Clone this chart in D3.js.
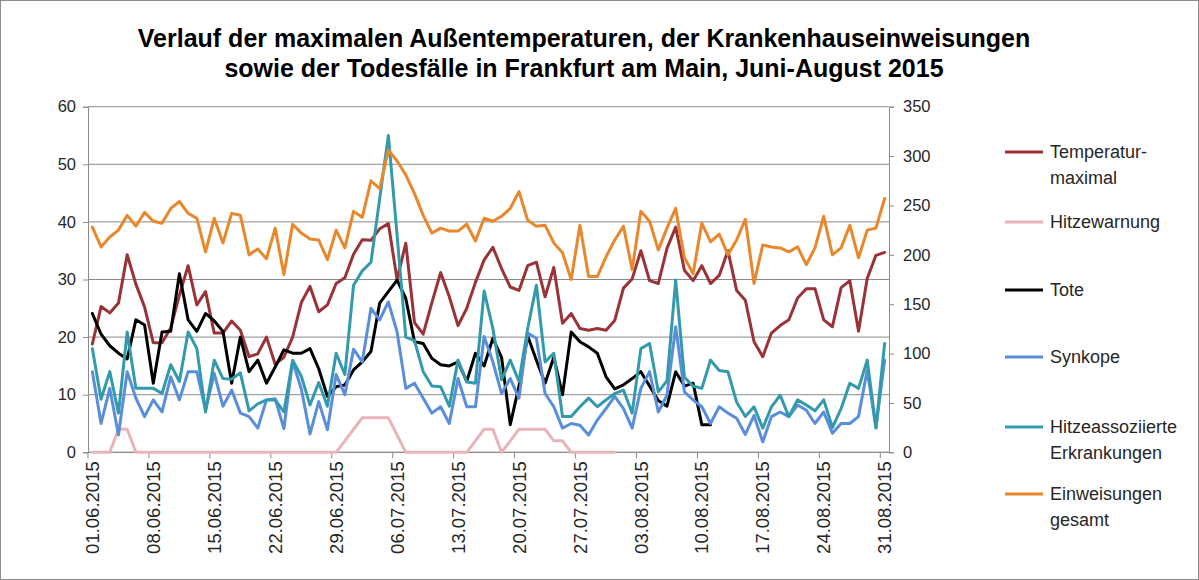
<!DOCTYPE html>
<html>
<head>
<meta charset="utf-8">
<script src="https://cdn.jsdelivr.net/npm/d3@7"></script>
<style>
  body { margin: 0; background: #fff; }
  svg { display: block; }
  text { font-family: "Liberation Sans", Arial, sans-serif; }
</style>
</head>
<body>
<svg id="chart" width="1199" height="580"></svg>
<script>
// Kategorien: alle Tage Juni–August 2015
const days = d3.timeDay.range(new Date(2015, 5, 1), new Date(2015, 8, 1));
const fmt = d3.timeFormat("%d.%m.%Y");
const dayLabels = days.map(fmt);

// Maximale Außentemperatur (°C), linke Achse
const temperatur = [
  18.8, 25.3, 24.2, 25.9, 34.3, 29.2, 25.2, 19.0, 19.0, 21.6,
  27.3, 32.4, 25.6, 27.9, 20.7, 20.7, 22.8, 21.2, 16.6, 17.1,
  20.0, 15.3, 16.5, 20.0, 26.0, 28.8, 24.4, 25.6, 29.3, 30.3,
  34.4, 36.9, 36.8, 38.8, 39.7, 30.0, 36.3, 22.5, 20.5, 26.0,
  31.2, 27.0, 22.0, 25.0, 29.5, 33.4, 35.6, 31.9, 28.7, 28.1,
  32.4, 33.0, 27.0, 32.1, 22.4, 24.1, 21.5, 21.2, 21.5, 21.2,
  22.9, 28.5, 30.1, 35.0, 29.8, 29.3, 35.4, 39.1, 31.6, 29.8,
  32.4, 29.3, 30.7, 35.0, 28.1, 26.4, 19.2, 16.6, 20.7, 22.0,
  23.0, 26.8, 28.4, 28.4, 23.0, 21.8, 28.6, 29.8, 21.0, 30.2,
  34.2, 34.7
];

// Hitzewarnung, linke Achse (endet Ende Juli)
const hitzewarnung = [
  0, 0, 0, 4, 4, 0, 0, 0, 0, 0,
  0, 0, 0, 0, 0, 0, 0, 0, 0, 0,
  0, 0, 0, 0, 0, 0, 0, 0, 0, 2,
  4, 6, 6, 6, 6, 3, 0, 0, 0, 0,
  0, 0, 0, 0, 2, 4, 4, 0, 2, 4,
  4, 4, 4, 2, 2, 0, 0, 0, 0, 0,
  0
];

// Todesfälle, linke Achse (Daten bis 11.08.)
const tote = [
  24.1, 20.5, 18.5, 17.2, 16.2, 23.0, 22.1, 12.0, 20.9, 21.0,
  31.0, 23.0, 21.0, 24.1, 22.8, 21.0, 12.0, 20.0, 14.0, 16.0,
  12.0, 14.8, 17.8, 17.2, 17.2, 18.0, 14.5, 9.7, 11.4, 11.7,
  14.3, 15.7, 17.5, 25.9, 27.9, 29.9, 26.7, 19.2, 18.9, 16.3,
  15.2, 15.0, 15.7, 12.3, 17.2, 15.0, 19.8, 16.5, 4.8, 11.5,
  20.2, 16.0, 12.0, 16.5, 10.0, 20.9, 19.2, 18.3, 17.2, 13.1,
  11.0, 11.7, 12.8, 14.0, 11.5, 9.0, 8.0, 14.0, 11.5, 12.0,
  4.8, 4.8
];

// Synkope, linke Achse
const synkope = [
  14.0, 5.0, 11.1, 3.0, 14.0, 9.4, 6.2, 9.1, 7.0, 13.1,
  9.1, 14.0, 14.0, 7.3, 13.7, 8.0, 10.8, 6.8, 6.2, 4.2,
  9.1, 9.3, 4.1, 15.8, 11.0, 3.2, 8.8, 3.9, 13.5, 10.0,
  17.9, 15.7, 25.0, 23.0, 26.1, 20.9, 11.1, 12.0, 9.4, 6.8,
  7.9, 5.0, 12.8, 7.9, 7.9, 20.1, 15.7, 10.2, 12.8, 9.4,
  20.7, 19.8, 10.2, 7.9, 4.2, 5.0, 4.7, 3.0, 5.6, 7.6,
  9.7, 7.6, 4.2, 11.1, 14.0, 7.0, 9.9, 21.8, 10.5, 9.1,
  7.9, 5.0, 7.9, 6.8, 5.9, 3.1, 6.4, 1.8, 6.2, 7.0,
  6.2, 8.2, 7.3, 5.0, 7.0, 3.3, 5.0, 5.0, 6.2, 14.3,
  4.2, 16.0
];

// Hitzeassoziierte Erkrankungen, linke Achse
const hitzeErkrankungen = [
  18.0, 9.2, 14.0, 6.8, 20.9, 11.1, 11.1, 11.1, 10.2, 15.2,
  12.3, 20.9, 18.0, 7.0, 16.0, 12.8, 12.7, 13.8, 7.2, 8.4,
  9.1, 9.1, 7.0, 16.0, 13.2, 8.2, 12.1, 8.0, 17.2, 13.5,
  29.0, 31.5, 33.0, 44.0, 55.0, 37.7, 20.0, 19.4, 14.0, 11.5,
  11.4, 8.0, 16.0, 12.2, 12.0, 28.0, 21.5, 12.6, 16.0, 12.3,
  21.5, 29.0, 15.7, 17.2, 6.2, 6.2, 7.9, 9.4, 7.9, 9.1,
  10.2, 10.8, 6.8, 18.0, 18.9, 10.5, 12.4, 29.9, 13.0, 11.5,
  11.1, 16.0, 14.2, 14.0, 8.7, 6.2, 7.9, 4.2, 7.9, 9.9,
  6.2, 9.1, 8.2, 7.2, 9.1, 4.3, 7.6, 12.0, 11.1, 16.0,
  4.3, 18.9
];

// Krankenhauseinweisungen gesamt, rechte Achse
const einweisungen = [
  228, 208, 218, 225, 240, 229, 243, 234, 232, 247,
  254, 242, 237, 203, 237, 212, 242, 240, 200, 206,
  196, 227, 180, 231, 222, 216, 215, 195, 225, 207,
  244, 238, 275, 267, 306, 295, 281, 262, 240, 222,
  227, 224, 224, 231, 214, 237, 234, 239, 247, 264,
  235, 229, 230, 212, 202, 175, 230, 178, 178, 198,
  215, 229, 185, 244, 234, 205, 227, 247, 197, 181,
  232, 213, 221, 200, 215, 236, 171, 210, 208, 207,
  203, 208, 190, 207, 239, 200, 207, 230, 197, 225,
  227, 257
];

const leftTicks = [0, 10, 20, 30, 40, 50, 60];
const rightTicks = [0, 50, 100, 150, 200, 250, 300, 350];

const series = [
  { name: ["Temperatur-", "maximal"], values: temperatur, axis: "L", color: "#993338", legendY: 152 },
  { name: ["Hitzewarnung"], values: hitzewarnung, axis: "L", color: "#E8B4B9", legendY: 222 },
  { name: ["Tote"], values: tote, axis: "L", color: "#000000", legendY: 290 },
  { name: ["Synkope"], values: synkope, axis: "L", color: "#5A8EDB", legendY: 357 },
  { name: ["Hitzeassoziierte", "Erkrankungen"], values: hitzeErkrankungen, axis: "L", color: "#339AAC", legendY: 427 },
  { name: ["Einweisungen", "gesamt"], values: einweisungen, axis: "R", color: "#E8872C", legendY: 494 }
];

const svg = d3.select("#chart");
const W = 1199, H = 580;
const plot = { left: 88, right: 889, top: 106.7, bottom: 452.3 };

svg.append("rect").attr("x", 0.5).attr("y", 0.5).attr("width", W - 1).attr("height", H - 1)
  .attr("fill", "#fff").attr("stroke", "#8c8c8c").attr("stroke-width", 1);

// Titel
const title = svg.append("text").attr("text-anchor", "middle")
  .attr("font-weight", "bold").attr("font-size", 25).attr("fill", "#000");
title.append("tspan").attr("x", 584).attr("y", 47).text("Verlauf der maximalen Außentemperaturen, der Krankenhauseinweisungen");
title.append("tspan").attr("x", 584).attr("y", 77).text("sowie der Todesfälle in Frankfurt am Main, Juni-August 2015");

const x = d3.scaleBand().domain(d3.range(dayLabels.length)).range([plot.left, plot.right]).padding(0);
const cx = i => x(i) + x.bandwidth() / 2;
const yL = d3.scaleLinear().domain([0, 60]).range([plot.bottom, plot.top]);
const yR = d3.scaleLinear().domain([0, 350]).range([plot.bottom, plot.top]);

// Gitternetzlinien
svg.append("g").selectAll("line").data(leftTicks).join("line")
  .attr("x1", plot.left).attr("x2", plot.right)
  .attr("y1", d => yL(d)).attr("y2", d => yL(d))
  .attr("stroke", "#8a8a8a").attr("stroke-width", 1);

// Linke Achse
const gL = svg.append("g").attr("transform", `translate(${plot.left},0)`)
  .call(d3.axisLeft(yL).tickValues(leftTicks).tickSize(5).tickPadding(7));
// Rechte Achse
const gR = svg.append("g").attr("transform", `translate(${plot.right},0)`)
  .call(d3.axisRight(yR).tickValues(rightTicks).tickSize(5).tickPadding(9));
[gL, gR].forEach(g => {
  g.select(".domain").attr("stroke", "#8a8a8a");
  g.selectAll(".tick line").attr("stroke", "#8a8a8a");
  g.selectAll(".tick text").attr("font-family", "Liberation Sans, Arial, sans-serif")
    .attr("font-size", 16.5).attr("fill", "#262626");
});

// Zeitachse
const weekIdx = d3.range(0, dayLabels.length, 7);
const gx = svg.append("g");
gx.append("line").attr("x1", plot.left).attr("x2", plot.right)
  .attr("y1", plot.bottom).attr("y2", plot.bottom).attr("stroke", "#8a8a8a");
gx.selectAll("line.tk").data(weekIdx).join("line").attr("class", "tk")
  .attr("x1", i => x(i)).attr("x2", i => x(i))
  .attr("y1", plot.bottom).attr("y2", plot.bottom + 6).attr("stroke", "#8a8a8a");
gx.selectAll("text").data(weekIdx).join("text")
  .attr("transform", i => `translate(${cx(i)},${plot.bottom + 9}) rotate(-90)`)
  .attr("text-anchor", "end").attr("dy", "0.36em")
  .attr("font-family", "DejaVu Sans, sans-serif").attr("font-size", 18.5)
  .attr("fill", "#262626")
  .text(i => dayLabels[i]);

// Linien
series.forEach(s => {
  const y = s.axis === "L" ? yL : yR;
  const line = d3.line().x((d, i) => cx(i)).y(d => y(d))
    .defined(d => d != null);
  svg.append("path").datum(s.values)
    .attr("d", line)
    .attr("fill", "none").attr("stroke", s.color)
    .attr("stroke-width", 3).attr("stroke-linejoin", "round").attr("stroke-linecap", "round");
});

// Legende
const lg = svg.append("g");
series.forEach(s => {
  lg.append("line").attr("x1", 1005).attr("x2", 1043)
    .attr("y1", s.legendY).attr("y2", s.legendY)
    .attr("stroke", s.color).attr("stroke-width", 3);
  const t = lg.append("text").attr("font-size", 18).attr("fill", "#262626");
  s.name.forEach((n, k) => {
    t.append("tspan").attr("x", 1050).attr("y", s.legendY + k * 26).attr("dy", "0.36em").text(n);
  });
});
</script>
</body>
</html>
